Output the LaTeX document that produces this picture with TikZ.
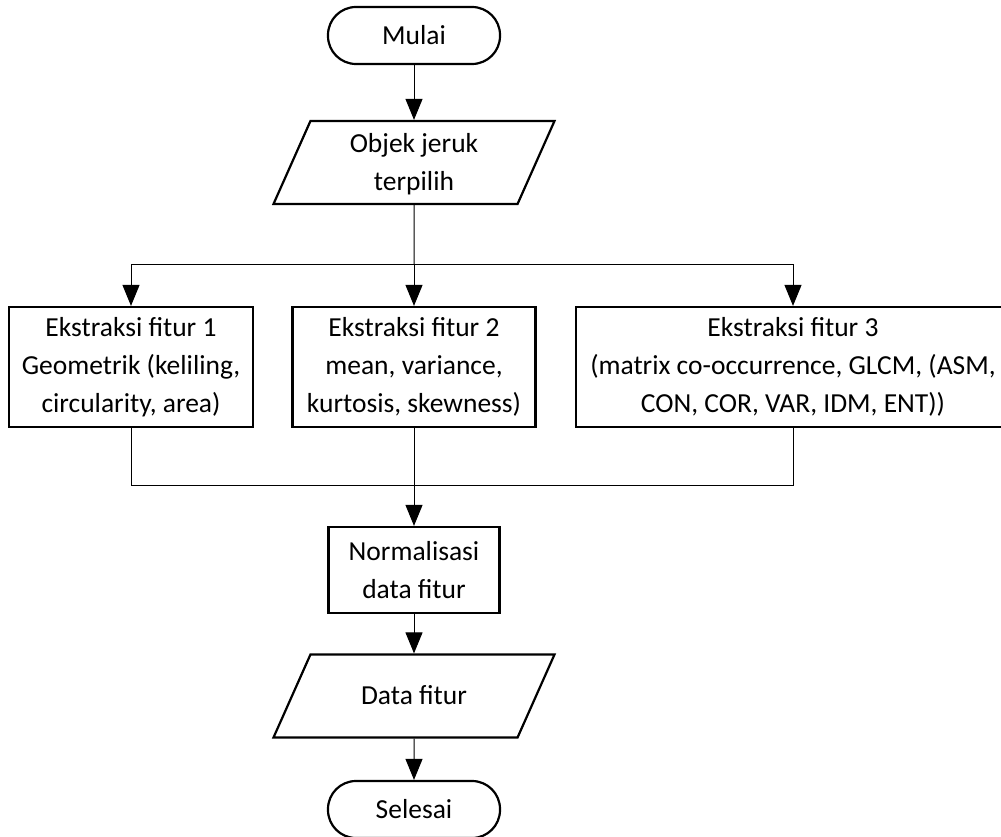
\documentclass[tikz,border=0pt]{standalone}
\usepackage{fontspec}
\setmainfont{Carlito}
\usetikzlibrary{shapes.geometric,arrows.meta}

\begin{document}
\begin{tikzpicture}[x=1pt,y=1pt,
  every node/.style={font=\fontsize{27.5}{38}\selectfont, align=center},
  term/.style={draw, line width=2.2pt, rounded corners=28pt, minimum width=172pt, minimum height=57pt},
  proses/.style={draw, line width=2.2pt, minimum height=120pt},
  io/.style={draw, line width=2.2pt, trapezium, trapezium left angle=66, trapezium right angle=114,
    trapezium stretches body, inner ysep=0pt, minimum width=281pt, minimum height=83pt},
  garis/.style={line width=1pt},
  panah/.style={garis, -{Triangle[length=21pt,width=17pt]}}]
  \useasboundingbox (0,0) rectangle (1001,836);
  \node (MULAI) [term] at (414,800.5) {Mulai};
  \node (OBJEK) [io, text height=70pt, text depth=13pt, below of=MULAI, node distance=127pt] {Objek jeruk\\terpilih};
  \node (EF2) [proses, minimum width=243pt, below of=OBJEK, node distance=204.5pt] {Ekstraksi fitur 2\\mean, variance,\\kurtosis, skewness)};
  \node (EF1) [proses, minimum width=244pt, left of=EF2, node distance=283pt] {Ekstraksi fitur 1\\Geometrik (keliling,\\circularity, area)};
  \node (EF3) [proses, minimum width=434pt, right of=EF2, node distance=379pt] {Ekstraksi fitur 3\\(matrix co-occurrence, GLCM, (ASM,\\CON, COR, VAR, IDM, ENT))};
  \node (NORM) [proses, minimum width=171pt, minimum height=86pt, below of=EF2, node distance=203pt] {Normalisasi\\data fitur};
  \node (DATA) [io, text height=50pt, text depth=33pt, below of=NORM, node distance=126pt] {Data fitur};
  \node (SELESAI) [term, below of=DATA, node distance=113.5pt] {Selesai};
  \coordinate (CABANG) at (414,571);
  \coordinate (GABUNG) at (414,350);
  \draw[panah] (MULAI) -- (OBJEK);
  \draw[garis] (OBJEK) -- (CABANG);
  \draw[panah] (CABANG) -| (EF1);
  \draw[panah] (CABANG) -- (EF2);
  \draw[panah] (CABANG) -| (EF3);
  \draw[garis] (EF1) |- (GABUNG);
  \draw[garis] (EF3) |- (GABUNG);
  \draw[garis] (EF2) -- (GABUNG);
  \draw[panah] (GABUNG) -- (NORM);
  \draw[panah] (NORM) -- (DATA);
  \draw[panah] (DATA) -- (SELESAI);
\end{tikzpicture}
\end{document}
